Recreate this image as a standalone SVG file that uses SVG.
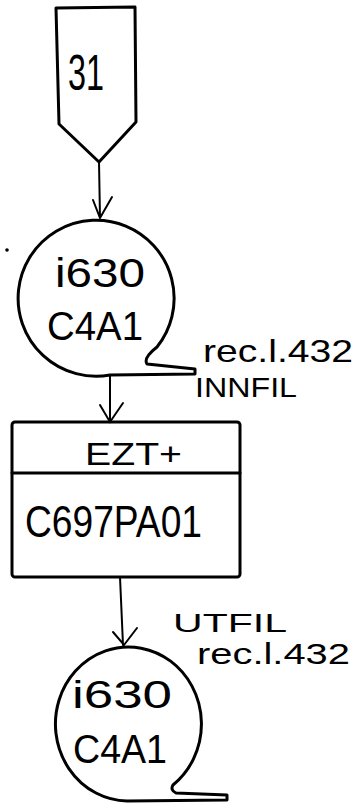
<svg xmlns="http://www.w3.org/2000/svg" width="359" height="808" viewBox="0 0 359 808">
<style>
.s{fill:none;stroke:#000;stroke-width:3;stroke-linejoin:round;stroke-linecap:round}
.c{fill:none;stroke:#000;stroke-width:2;stroke-linecap:round}
.t{font-family:"Liberation Sans",Arial,sans-serif;fill:#000}
</style>
<rect width="359" height="808" fill="#fff"/>
<g id="connectors">
<path class="c" d="M99,162 L100,218 M93,200 L100,218 L112,197"/>
<path class="c" d="M110,375 L110,422 M100,405 L110,422 L123,403"/>
<path class="c" d="M120,577 L123,645 M113,632 L124,645 L137,628"/>
</g>
<g id="offpage31">
<path class="s" d="M56,8 L135,7 L136,122 L99,162 L59,124 Z"/>
<text class="t" x="68" y="90" font-size="50" textLength="36" lengthAdjust="spacingAndGlyphs">31</text>
</g>
<g id="file1">
<path class="s" d="M157,347 A78,78 0 1 0 110,375 L195,374 L195,369 L147,364 Q143,358 157,347"/>
<text class="t" x="55" y="287" font-size="40" textLength="90" lengthAdjust="spacingAndGlyphs">i630</text>
<text class="t" x="47" y="340" font-size="40" textLength="96" lengthAdjust="spacingAndGlyphs">C4A1</text>
<text class="t" x="203" y="362" font-size="32" textLength="150" lengthAdjust="spacingAndGlyphs">rec.l.432</text>
<text class="t" x="195" y="397" font-size="27" textLength="102" lengthAdjust="spacingAndGlyphs">INNFIL</text>
</g>
<g id="program">
<rect class="s" x="12" y="422" width="228" height="155" rx="3"/>
<line class="s" x1="12" y1="473" x2="240" y2="473"/>
<text class="t" x="85" y="465" font-size="31" textLength="97" lengthAdjust="spacingAndGlyphs">EZT+</text>
<text class="t" x="25" y="537" font-size="44" textLength="177" lengthAdjust="spacingAndGlyphs">C697PA01</text>
</g>
<g id="file2">
<path class="s" d="M173,785 A73,77 0 1 0 127,801 L227,800 L227,795 L176,793 Q170,790 173,785"/>
<text class="t" x="173" y="632" font-size="26" textLength="114" lengthAdjust="spacingAndGlyphs">UTFIL</text>
<text class="t" x="197" y="664" font-size="29" textLength="153" lengthAdjust="spacingAndGlyphs">rec.l.432</text>
<text class="t" x="72" y="708" font-size="38" textLength="100" lengthAdjust="spacingAndGlyphs">i630</text>
<text class="t" x="73" y="763" font-size="40" textLength="94" lengthAdjust="spacingAndGlyphs">C4A1</text>
</g>
<circle cx="7" cy="250" r="1.8" fill="#000"/>
</svg>
